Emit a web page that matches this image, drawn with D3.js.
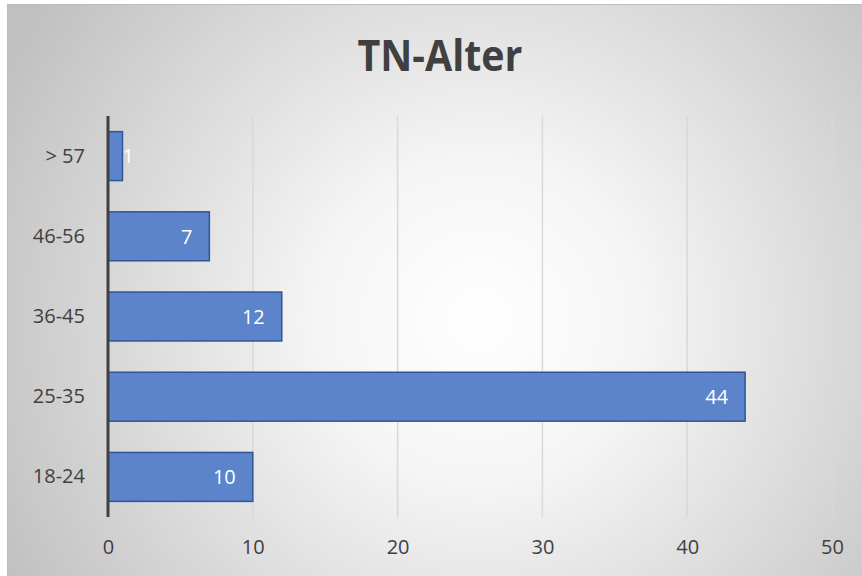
<!DOCTYPE html>
<html><head><meta charset="utf-8">
<script src="https://cdn.jsdelivr.net/npm/d3@7"></script>
<style>body{margin:0;background:#fff}svg{display:block}</style>
</head><body>
<svg id="c" width="862" height="576"></svg>
<script>
const categories = ["18-24","25-35","36-45","46-56","> 57"];
const values = [10,44,12,7,1];
const xTicks = [0,10,20,30,40,50];
const title = "TN-Alter";

const svg = d3.select("#c");
const defs = svg.append("defs");
const g = defs.append("radialGradient").attr("id","bg")
  .attr("gradientUnits","userSpaceOnUse").attr("cx",480).attr("cy",320).attr("r",540);
g.append("stop").attr("offset","0").attr("stop-color","#ffffff");
g.append("stop").attr("offset","0.3").attr("stop-color","#f5f5f5");
g.append("stop").attr("offset","1").attr("stop-color","#c0c0c0");

svg.append("rect").attr("x",7.5).attr("y",4.5).attr("width",860).attr("height",580)
  .attr("fill","url(#bg)").attr("stroke","#bdbdbd").attr("stroke-width",1);

const font = "'Open Sans', 'Liberation Sans', sans-serif";
const x = d3.scaleLinear().domain([0,50]).range([108,832]);
const y = d3.scaleBand().domain(categories.slice().reverse()).range([116,517]).paddingInner(0.39).paddingOuter(0.195);

// gridlines
svg.append("g").selectAll("line").data(xTicks.filter(d=>d>0)).join("line")
  .attr("x1",d=>x(d)).attr("x2",d=>x(d)).attr("y1",116).attr("y2",517)
  .attr("stroke","#d9d9d9").attr("stroke-width",1.5);

// bars
const data = categories.map((c,i)=>({c,v:values[i]}));
svg.append("g").selectAll("rect").data(data).join("rect")
  .attr("x",x(0)).attr("y",d=>y(d.c)).attr("width",d=>x(d.v)-x(0)).attr("height",y.bandwidth())
  .attr("fill","#5b84cb").attr("stroke","#2f5597").attr("stroke-width",1.5);

// bar labels
svg.append("g").selectAll("text").data(data).join("text")
  .attr("x",d=>Math.max(x(d.v)-17, x(0)+26)).attr("y",d=>y(d.c)+y.bandwidth()/2)
  .attr("dy","0.36em").attr("text-anchor","end")
  .attr("fill","#ffffff").attr("font-family",font).attr("font-size",20)
  .text(d=>d.v);

// y axis
const ya = svg.append("g").attr("transform",`translate(${x(0)},0)`)
  .call(d3.axisLeft(y).tickSize(0).tickPadding(23));
ya.select(".domain").attr("stroke","#404040").attr("stroke-width",3).attr("d","M0,116V517");
ya.selectAll("text").attr("font-family",font).attr("font-size",20).attr("fill","#404040");

// x axis
const xa = svg.append("g").attr("transform","translate(0,517)")
  .call(d3.axisBottom(x).tickValues(xTicks).tickSize(0).tickPadding(23));
xa.select(".domain").remove();
xa.selectAll("text").attr("font-family",font).attr("font-size",20).attr("fill","#404040");

svg.append("text").attr("x",440).attr("y",71).attr("text-anchor","middle")
  .attr("font-family",font).attr("font-weight","bold").attr("font-size",43)
  .attr("fill","#404040").attr("textLength",165).attr("lengthAdjust","spacingAndGlyphs").text(title);
</script>
</body></html>
